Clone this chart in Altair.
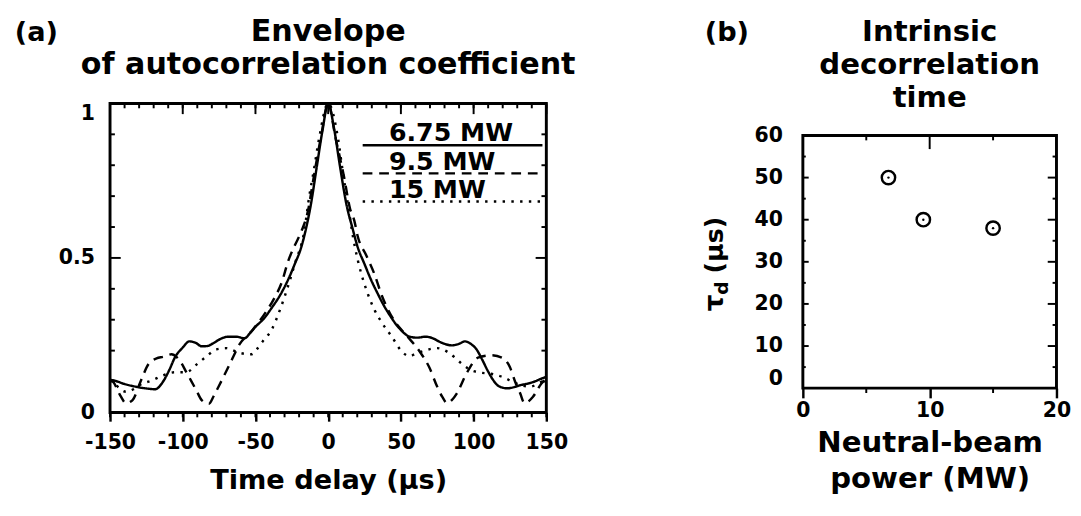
import altair as alt
import pandas as pd

FONT = "DejaVu Sans"

# ---------------- panel (a) data ----------------
SERIES = ["6.75 MW", "9.5 MW", "15 MW"]

T_675 = [-150, -148, -140, -132, -124, -119, -113.5, -109, -105.5, -100, -95.5, -91, -87, -83,
         -79, -74, -69, -63, -57.5, -54, -50, -44, -38.6, -33, -27.5, -23, -18.5, -15, -12, -8,
         -4, 0, 4, 8, 12.7, 16.5, 20.3, 25, 29.4, 34, 38.3, 43, 47, 51, 56, 61, 67, 72, 76, 80,
         85, 90, 94, 98, 102, 106, 109.7, 113, 116.4, 120, 123, 128, 132, 136, 140.7, 147, 150]
V_675 = [0.105, 0.104, 0.092, 0.083, 0.077, 0.075, 0.10, 0.14, 0.177, 0.21, 0.23, 0.225, 0.214,
         0.215, 0.224, 0.238, 0.245, 0.245, 0.24, 0.255, 0.277, 0.305, 0.34, 0.38, 0.43, 0.48,
         0.535, 0.60, 0.67, 0.79, 0.91, 1.0, 0.92, 0.80, 0.67, 0.60, 0.535, 0.48, 0.43, 0.385,
         0.346, 0.31, 0.283, 0.262, 0.245, 0.242, 0.245, 0.24, 0.23, 0.222, 0.217, 0.222, 0.23,
         0.222, 0.204, 0.17, 0.135, 0.108, 0.088, 0.08, 0.078, 0.082, 0.088, 0.092, 0.098, 0.11,
         0.115]

T_95 = [-150, -148, -143, -139, -134.5, -129, -123.5, -118, -113.5, -107.7, -104, -101, -97.5,
        -94.4, -90.5, -87, -82, -78.5, -75.4, -71.5, -67.6, -61, -52, -43, -37, -32, -27.5, -23,
        -18.5, -14, -10, -5, 0, 5, 11, 15, 18, 20.3, 26, 31.6, 37, 45, 53.7, 62.8, 69.5, 75,
        78.5, 81.8, 85, 88.5, 95, 103, 112, 119.7, 125, 128.5, 132, 135, 140.7, 146.5, 150]
V_95 = [0.105, 0.10, 0.055, 0.03, 0.04, 0.10, 0.157, 0.175, 0.18, 0.188, 0.178, 0.16, 0.13,
        0.104, 0.07, 0.04, 0.028, 0.055, 0.083, 0.12, 0.157, 0.22, 0.267, 0.324, 0.37, 0.42,
        0.49, 0.54, 0.585, 0.65, 0.76, 0.89, 1.0, 0.89, 0.76, 0.66, 0.62, 0.57, 0.51, 0.45,
        0.377, 0.30, 0.25, 0.198, 0.146, 0.083, 0.05, 0.03, 0.04, 0.062, 0.125, 0.177, 0.185,
        0.177, 0.146, 0.10, 0.062, 0.03, 0.05, 0.093, 0.11]

T_15 = [-150, -148, -144, -139, -134, -130, -121, -113.5, -105.5, -97.7, -90, -83.5, -76.8, -70,
        -65, -61, -53, -49, -45, -38.6, -33, -27.5, -23, -16.5, -13, -10, -6.5, 0, 7, 10, 13.7,
        17, 20.5, 22.7, 27, 31.6, 37, 43.8, 50.5, 56, 60, 65, 70, 75, 83, 92, 97, 103, 112,
        119.7, 129.7, 138.6, 147, 150]
V_15 = [0.105, 0.10, 0.08, 0.067, 0.075, 0.088, 0.104, 0.12, 0.13, 0.13, 0.157, 0.182, 0.204,
        0.208, 0.20, 0.193, 0.188, 0.205, 0.23, 0.27, 0.334, 0.41, 0.48, 0.585, 0.70, 0.78, 0.88,
        1.0, 0.88, 0.78, 0.67, 0.57, 0.49, 0.45, 0.387, 0.334, 0.29, 0.245, 0.198, 0.182, 0.19,
        0.198, 0.205, 0.208, 0.193, 0.157, 0.14, 0.13, 0.125, 0.115, 0.093, 0.083, 0.10, 0.105]

X_TICKS_A = [-150, -100, -50, 0, 50, 100, 150]
X_MINOR_A = [-150, -140, -130, -120, -110, -100, -90, -80, -70, -60, -50, -40, -30, -20, -10, 0,
             10, 20, 30, 40, 50, 60, 70, 80, 90, 100, 110, 120, 130, 140, 150]
Y_TICKS_A = [0, 0.5, 1]
Y_MINOR_A = [0.1, 0.2, 0.3, 0.4, 0.6, 0.7, 0.8, 0.9]
Y_MAJOR_A = [0.5]
TITLE_A = ["Envelope", "of autocorrelation coefficient"]

# ---------------- panel (b) data ----------------
POWER = [6.75, 9.5, 15]
TAU = [50, 40, 38]
X_TICKS_B = [0, 10, 20]
X_MINOR_B = [5, 15]
X_MID_B = [10]
Y_TICKS_B = [0, 10, 20, 30, 40, 50, 60]
Y_MINOR_B = [5, 15, 25, 35, 45, 55]
Y_MID_B = [10, 20, 30, 40, 50]
TITLE_B = ["Intrinsic", "decorrelation", "time"]
YTITLE_B = ["τ", "d", "(μs)"]

W_A, H_A = 449, 318
W_B, H_B = 261, 260
DROP_B = 33              # panel (b) frame sits lower than panel (a) frame
H_B_TOTAL = H_B + DROP_B

rows = []
for name, ts, vs in [(SERIES[0], T_675, V_675), (SERIES[1], T_95, V_95), (SERIES[2], T_15, V_15)]:
    for t, v in zip(ts, vs):
        rows.append({"series": name, "t": t, "v": v})
curves = pd.DataFrame(rows)

one = pd.DataFrame({"k": [0]})

dash_scale = alt.Scale(domain=SERIES, range=[[1, 0], [10, 7], [2.5, 6.5]])
xs_a = alt.Scale(domain=[-150, 150], nice=False, zero=False)
ys_a = alt.Scale(domain=[0, 1], nice=False, zero=False)

x_a = alt.X("t:Q", scale=xs_a,
            axis=alt.Axis(values=X_TICKS_A, title="Time delay (μs)", labelFlush=False,
                          labelExpr="datum.value < 0 ? '-' + abs(datum.value) : '' + datum.value",
                          tickSize=9, tickWidth=2.5, labelPadding=11, titlePadding=15,
                          titleFontSize=28))
y_a = alt.Y("v:Q", scale=ys_a,
            axis=alt.Axis(values=Y_TICKS_A, format="~g", title=None, ticks=False, tickSize=0,
                          labelPadding=16, labelFlush=False,
                          labelBaseline=alt.condition("datum.value == 1", alt.value("top"),
                                                      alt.value("middle"))))

lines = alt.Chart(curves).mark_line(color="black", strokeWidth=2.5, interpolate="monotone").encode(
    x=x_a, y=y_a,
    strokeDash=alt.StrokeDash("series:N", scale=dash_scale, legend=None),
    detail="series:N",
)

def xt(vals, xenc, field, y0, y1):
    return alt.Chart(pd.DataFrame({field: vals})).mark_rule(color="black", strokeWidth=2).encode(
        x=xenc, y=alt.value(y0), y2=alt.value(y1))

def yt(vals, yenc, field, x0, x1):
    return alt.Chart(pd.DataFrame({field: vals})).mark_rule(color="black", strokeWidth=2).encode(
        y=yenc, x=alt.value(x0), x2=alt.value(x1))

ticks_a = [
    xt(X_MINOR_A, x_a, "t", 0, 5),
    xt(X_TICKS_A, x_a, "t", 0, 11),
    xt(X_MINOR_A, x_a, "t", H_A, H_A + 5),
    yt(Y_MINOR_A, y_a, "v", 0, 5),
    yt(Y_MAJOR_A, y_a, "v", 0, 11),
    yt(Y_MINOR_A, y_a, "v", W_A - 5, W_A),
    yt(Y_MAJOR_A, y_a, "v", W_A - 11, W_A),
]

legend_df = pd.DataFrame({"series": SERIES})
ly = alt.Y("series:N", scale=alt.Scale(type="point", domain=SERIES, range=[43, 101], padding=0),
           axis=None)
leg_rule = alt.Chart(legend_df).mark_rule(color="black", strokeWidth=2.5).encode(
    x=alt.value(260), x2=alt.value(W_A - 4), y=ly,
    strokeDash=alt.StrokeDash("series:N", scale=dash_scale, legend=None))
leg_text = alt.Chart(legend_df).mark_text(
    align="left", baseline="alphabetic", dy=-4, font=FONT, fontSize=26, fontWeight="bold",
    color="black").encode(x=alt.value(287), y=ly, text="series:N")

def txt(text, x, y, align, size=30, line_height=32, angle=0):
    return alt.Chart(one).mark_text(
        align=align, baseline="alphabetic", font=FONT, fontSize=size, fontWeight="bold",
        color="black", lineHeight=line_height, angle=angle).encode(
        x=alt.value(x), y=alt.value(y), text=alt.value(text))

title_a = txt(TITLE_A, W_A / 2, -64, "center", 31, 34)
lab_a = txt("(a)", -98, -64, "left", 28)

left = alt.layer(
    alt.layer(lines, *ticks_a),
    leg_rule, leg_text, title_a, lab_a,
).resolve_scale(y="independent").properties(width=W_A, height=H_A)

# ---------------- panel (b) ----------------
pts = pd.DataFrame({"p": POWER, "tau": TAU})
xs_b = alt.Scale(domain=[0, 20], nice=False, zero=False)
ys_b = alt.Scale(domain=[0, 60], nice=False, zero=False, range=[H_B_TOTAL, DROP_B])
x_b = alt.X("p:Q", scale=xs_b,
            axis=alt.Axis(values=X_TICKS_B, title=["Neutral-beam", "power (MW)"], labelFlush=False,
                          tickSize=10, tickWidth=2.5, labelPadding=2, titlePadding=8,
                          titleFontSize=30, titleLineHeight=37))
y_b = alt.Y("tau:Q", scale=ys_b,
            axis=alt.Axis(values=Y_TICKS_B, title=None, ticks=False, tickSize=0,
                          labelPadding=21, labelFlush=False,
                          labelBaseline=alt.condition("datum.value == 0", alt.value("bottom"),
                                                      alt.value("middle"))))

frame_b = alt.Chart(one).mark_rect(
    filled=False, stroke="black", strokeWidth=3, fillOpacity=0).encode(
    x=alt.value(0), x2=alt.value(W_B), y=alt.value(DROP_B), y2=alt.value(H_B_TOTAL))

circles = alt.Chart(pts).mark_point(shape="circle", filled=False, color="black", size=190,
                                    strokeWidth=2.5, opacity=1).encode(x=x_b, y=y_b)
dots = alt.Chart(pts).mark_point(shape="circle", filled=True, color="black", size=6,
                                 opacity=1).encode(x=x_b, y=y_b)

ticks_b = [
    xt(X_MINOR_B, x_b, "p", DROP_B, DROP_B + 5),
    xt(X_MID_B, x_b, "p", DROP_B, DROP_B + 14),
    xt(X_MINOR_B, x_b, "p", H_B_TOTAL, H_B_TOTAL + 5),
    yt(Y_MINOR_B, y_b, "tau", 0, 3),
    yt(Y_MID_B, y_b, "tau", 0, 6),
    yt(Y_MINOR_B, y_b, "tau", W_B - 4, W_B),
    yt(Y_MID_B, y_b, "tau", W_B - 9, W_B),
]

# rotated y title with a subscript: tau, d (lowered), (mu s)
ytitle_b = [
    txt(YTITLE_B[0], -82, 214, "left", 27, angle=270),
    txt(YTITLE_B[1], -77, 197, "left", 19, angle=270),
    txt(YTITLE_B[2], -82, 175, "left", 26, angle=270),
]

title_b = txt(TITLE_B, W_B / 2, -64, "center", 30, 34)
lab_b = txt("(b)", -101, -64, "left", 28)

right = alt.layer(frame_b, circles, dots, *ticks_b, *ytitle_b, title_b, lab_b).properties(
    width=W_B, height=H_B_TOTAL,
    view=alt.ViewBackground(stroke="transparent"),
)

chart = alt.concat(left, right, columns=2, spacing=126, align="none").properties(
    padding={"left": 5, "top": 0, "right": 0, "bottom": 0}
).configure_view(
    stroke="black", strokeWidth=3
).configure_axis(
    domain=False, grid=False, labelFont=FONT, labelFontWeight="bold", labelFontSize=21,
    labelColor="black", titleFont=FONT, titleFontWeight="bold", titleColor="black",
    tickColor="black",
)

chart.save("out.html", embed_options={"renderer": "svg", "actions": False})
